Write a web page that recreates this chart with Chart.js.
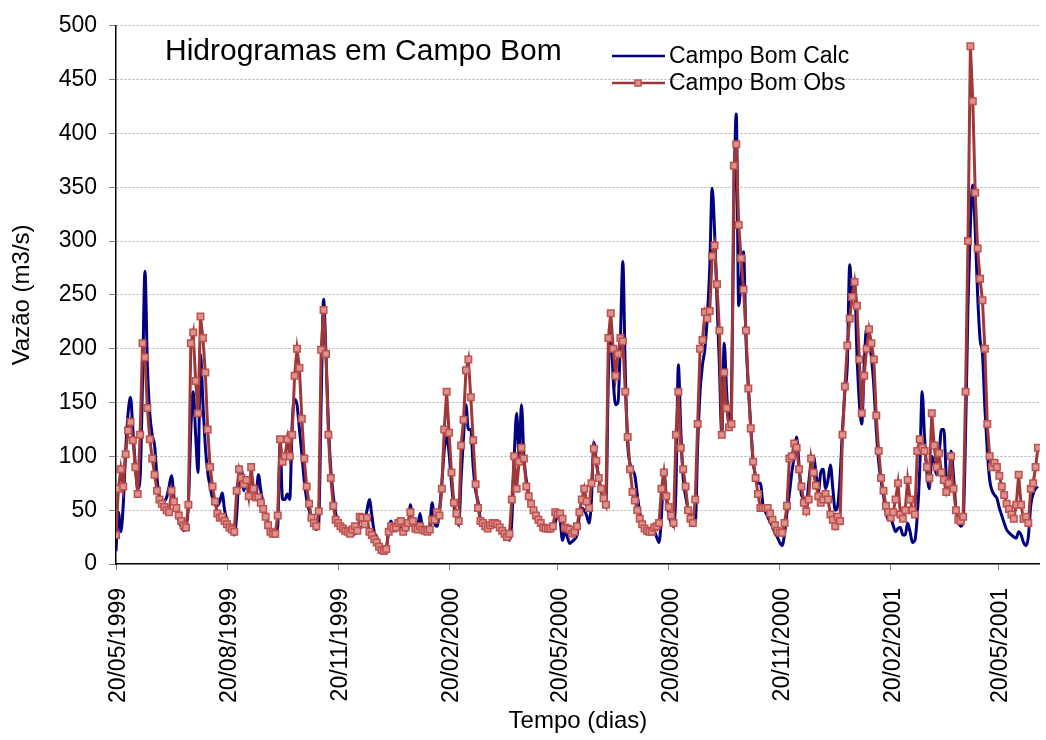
<!DOCTYPE html>
<html>
<head>
<meta charset="utf-8">
<title>Hidrogramas em Campo Bom</title>
<script src="https://cdn.jsdelivr.net/npm/chart.js@4.4.1/dist/chart.umd.min.js"></script>
<style>
  html, body { margin: 0; padding: 0; background: #fff; }
  #wrap { width: 1046px; height: 740px; }
</style>
</head>
<body>
<div id="wrap"><canvas id="chart" width="1046" height="740"></canvas></div>
<script>
// flows, one value every 2 days starting 20/05/1999
const STEP_DAYS = 2;

const campoBomCalc = [
  12, 48, 30, 55, 105, 140, 155, 125, 92, 70,
  80, 170, 272, 185, 140, 120, 110, 80, 62, 56,
  58, 62, 72, 82, 62, 48, 40, 35, 31, 34,
  55, 125, 160, 120, 85, 195, 150, 110, 85, 72,
  61, 55, 54, 58, 66, 50, 41, 37, 33, 27,
  45, 83, 88, 68, 80, 68, 75, 72, 64, 83,
  68, 56, 48, 38, 33, 30, 28, 35, 112, 60,
  60, 65, 60, 130, 153, 148, 125, 102, 77, 60,
  50, 42, 36, 32, 38, 150, 246, 195, 130, 88,
  64, 47, 41, 37, 34, 31, 30, 28, 27, 28,
  30, 33, 35, 38, 50, 60, 45, 30, 25, 20,
  17, 15, 15, 33, 40, 31, 35, 33, 33, 32,
  31, 33, 55, 35, 33, 35, 47, 32, 30, 30,
  35, 57, 38, 35, 50, 75, 106, 118, 103, 75,
  54, 45, 36, 80, 119, 148, 125, 125, 90, 68,
  58, 42, 39, 37, 33, 33, 35, 35, 35, 32,
  29, 27, 24, 22, 40, 100, 140, 100, 148, 100,
  78, 65, 56, 49, 44, 40, 37, 34, 32, 31,
  31, 31, 38, 46, 41, 22, 30, 25, 19, 21,
  23, 27, 45, 52, 50, 45, 38, 60, 113, 95,
  80, 68, 60, 56, 175, 220, 172, 148, 150, 210,
  281, 180, 112, 93, 87, 82, 64, 48, 40, 35,
  32, 30, 30, 30, 25, 20, 45, 87, 62, 46,
  38, 35, 70, 185, 125, 80, 63, 52, 46, 41,
  38, 110, 160, 185, 200, 230, 275, 349, 310, 245,
  185, 120, 205, 160, 130, 150, 330, 418, 240, 265,
  290, 210, 165, 128, 95, 82, 75, 75, 56, 49,
  44, 39, 35, 29, 25, 20, 17, 28, 48, 65,
  85, 100, 118, 92, 64, 61, 55, 75, 95, 100,
  85, 67, 85, 88, 70, 78, 92, 70, 50, 54,
  80, 125, 160, 185, 278, 250, 262, 195, 150, 130,
  185, 220, 205, 192, 165, 125, 95, 77, 64, 48,
  41, 42, 36, 30, 33, 34, 27, 27, 38, 30,
  20, 22, 45, 87, 160, 118, 85, 70, 100, 92,
  83, 100, 125, 125, 82, 72, 105, 82, 52, 40,
  35, 40, 120, 240, 315, 352, 310, 250, 209, 195,
  145, 105, 78, 68, 64, 61, 52, 45, 38, 32,
  29, 27, 25, 24, 30, 27, 20, 17, 25, 54,
  65, 70, 72
];

const campoBomObs = [
  27, 70, 88, 72, 102, 124, 132, 115, 90, 65,
  120, 205, 192, 145, 116, 98, 83, 68, 60, 56,
  53, 50, 48, 68, 58, 52, 45, 40, 36, 34,
  55, 205, 215, 170, 140, 230, 210, 178, 125, 90,
  72, 58, 47, 43, 44, 40, 37, 34, 32, 30,
  68, 88, 80, 74, 78, 63, 90, 70, 62, 62,
  57, 51, 44, 36, 30, 28, 28, 45, 116, 95,
  100, 116, 100, 120, 175, 200, 182, 135, 98, 72,
  56, 43, 38, 35, 49, 199, 236, 195, 120, 80,
  54, 41, 38, 35, 33, 31, 30, 28, 32, 35,
  31, 44, 43, 37, 43, 30, 27, 23, 20, 16,
  13, 12, 14, 30, 35, 33, 34, 38, 40, 30,
  34, 38, 48, 40, 33, 32, 35, 32, 31, 30,
  32, 41, 41, 48, 45, 70, 125, 160, 122, 85,
  57, 47, 40, 110, 134, 180, 190, 155, 115, 74,
  52, 40, 38, 35, 33, 36, 38, 38, 37, 34,
  31, 28, 25, 28, 60, 100, 70, 95, 108, 98,
  72, 63, 56, 50, 45, 41, 38, 34, 33, 33,
  33, 35, 48, 46, 47, 42, 34, 33, 32, 28,
  30, 35, 48, 60, 70, 58, 52, 75, 107, 96,
  80, 70, 61, 55, 210, 233, 200, 175, 195, 210,
  207, 160, 118, 88, 67, 59, 50, 42, 37, 33,
  31, 30, 30, 34, 35, 38, 70, 85, 63, 53,
  45, 38, 120, 160, 108, 88, 72, 50, 42, 38,
  60, 130, 200, 208, 234, 228, 235, 286, 296, 260,
  217, 120, 178, 145, 127, 130, 370, 390, 315, 284,
  255, 217, 163, 126, 95, 80, 65, 52, 52, 52,
  52, 47, 41, 36, 31, 29, 29, 38, 54, 98,
  100, 112, 108, 88, 72, 57, 49, 60, 98, 85,
  73, 63, 57, 60, 65, 60, 46, 41, 35, 44,
  40, 120, 165, 203, 228, 248, 262, 240, 190, 140,
  175, 200, 218, 205, 190, 138, 105, 80, 68, 54,
  48, 43, 48, 60, 75, 46, 42, 50, 78, 60,
  50, 46, 105, 116, 108, 105, 90, 80, 140, 110,
  90, 103, 85, 78, 67, 75, 100, 70, 50, 41,
  40, 44, 160, 300, 481, 430, 345, 293, 265, 245,
  200, 130, 100, 90, 94, 90, 82, 72, 64, 56,
  51, 46, 42, 55, 83, 55, 42, 44, 38, 70,
  75, 90, 108
];

const seriesNames = ['Campo Bom Calc', 'Campo Bom Obs'];
const tickDays = [0, 92, 184, 276, 366, 458, 550, 642, 731];
const tickLabels = ['20/05/1999', '20/08/1999', '20/11/1999', '20/02/2000', '20/05/2000',
                    '20/08/2000', '20/11/2000', '20/02/2001', '20/05/2001'];
const chartTitle = 'Hidrogramas em Campo Bom';
const xTitle = 'Tempo (dias)';
const yTitle = 'Vazão (m3/s)';

const FONT = '"Liberation Sans", Arial, sans-serif';

const toPoints = (vals) => vals.map((v, i) => ({ x: i * STEP_DAYS, y: v }));

// title and legend sit inside the plot area in the original
const insideText = {
  id: 'insideText',
  afterDraw(chart) {
    const ctx = chart.ctx;
    ctx.save();
    ctx.fillStyle = '#000';
    ctx.textBaseline = 'alphabetic';
    ctx.font = '30px ' + FONT;
    ctx.fillText(chartTitle, 165, 60);

    chart.data.datasets.forEach((ds, i) => {
      const y = 56 + i * 27;
      ctx.strokeStyle = ds.borderColor;
      ctx.lineWidth = 2.5;
      ctx.beginPath();
      ctx.moveTo(612, y);
      ctx.lineTo(665, y);
      ctx.stroke();
      if (ds.pointRadius > 0) {
        ctx.fillStyle = ds.pointBackgroundColor;
        ctx.strokeStyle = ds.pointBorderColor;
        ctx.lineWidth = 1.5;
        ctx.fillRect(635, y - 3, 6, 6);
        ctx.strokeRect(635, y - 3, 6, 6);
      }
      ctx.fillStyle = '#000';
      ctx.font = '23px ' + FONT;
      ctx.textBaseline = 'middle';
      ctx.fillText(ds.label, 669, y + 1);
    });
    ctx.restore();
  }
};

new Chart(document.getElementById('chart'), {
  type: 'line',
  data: {
    datasets: [
      {
        label: seriesNames[0],
        data: toPoints(campoBomCalc),
        borderColor: '#000080',
        borderWidth: 3,
        pointRadius: 0,
        cubicInterpolationMode: 'monotone',
        order: 2
      },
      {
        label: seriesNames[1],
        data: toPoints(campoBomObs),
        borderColor: '#A03838',
        borderWidth: 3,
        pointStyle: 'rect',
        pointRadius: 4.6,
        pointBorderWidth: 1.5,
        pointBorderColor: '#C0504D',
        pointBackgroundColor: '#D9948F',
        tension: 0,
        order: 1
      }
    ]
  },
  options: {
    responsive: false,
    devicePixelRatio: 1,
    animation: false,
    layout: { padding: { top: 23, right: 0, bottom: 0, left: 0 } },
    plugins: {
      legend: { display: false },
      tooltip: { enabled: false }
    },
    scales: {
      x: {
        type: 'linear',
        min: 0,
        max: 765.6,
        afterBuildTicks: (s) => { s.ticks = tickDays.map(v => ({ value: v })); },
        afterFit: (s) => { s.height = 176; },
        ticks: {
          autoSkip: false,
          minRotation: 90,
          maxRotation: 90,
          padding: 18,
          labelOffset: 3,
          color: '#000',
          font: { family: FONT, size: 23 },
          callback: (v) => {
            const i = tickDays.indexOf(v);
            return i >= 0 ? tickLabels[i] : '';
          }
        },
        grid: { drawOnChartArea: false, tickLength: 6, tickColor: '#808080', tickWidth: 1 },
        border: { color: '#000', width: 1.5 },
        title: { display: true, text: xTitle, color: '#000', font: { family: FONT, size: 24 }, padding: { top: 0, bottom: 4 } }
      },
      y: {
        min: 0,
        max: 500,
        afterFit: (s) => { s.width = 116; },
        ticks: { stepSize: 50, padding: 12, color: '#000', font: { family: FONT, size: 23 } },
        grid: {
          color: (c) => (c.tick && c.tick.value === 0 ? 'rgba(0,0,0,0)' : '#b0b0b0'),
          lineWidth: 1,
          tickLength: 7,
          tickColor: '#808080',
          tickWidth: 1,
          tickBorderDash: []
        },
        border: { display: true, color: '#000', width: 1.5, dash: [2, 2] },
        title: { display: true, text: yTitle, color: '#000', font: { family: FONT, size: 24 }, padding: { top: 8, bottom: 0 } }
      }
    }
  },
  plugins: [insideText]
});
</script>
</body>
</html>
